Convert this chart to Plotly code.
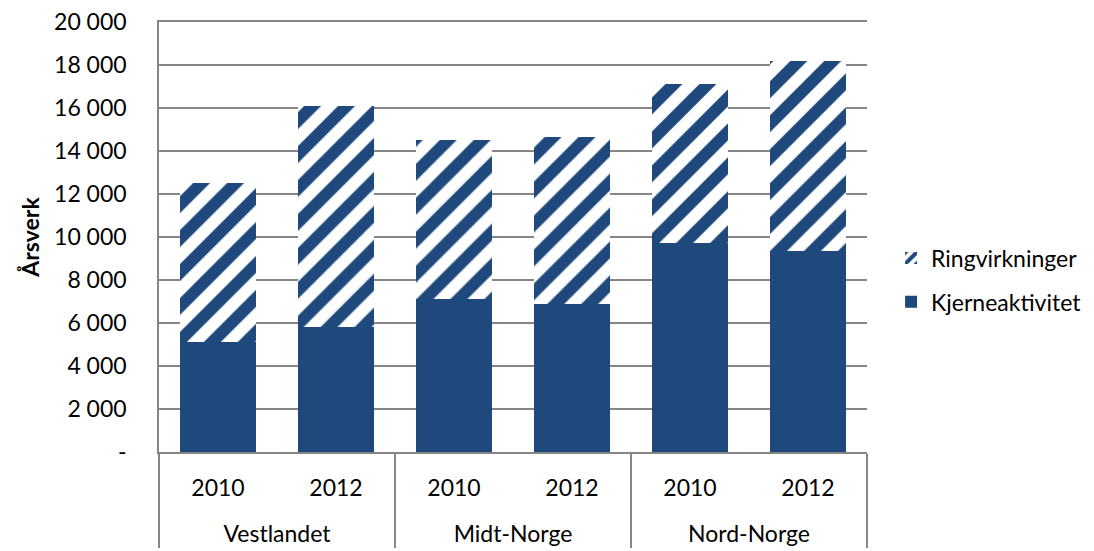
import plotly.graph_objects as go

regions = ["Vestlandet", "Vestlandet", "Midt-Norge", "Midt-Norge", "Nord-Norge", "Nord-Norge"]
years = ["2010", "2012", "2010", "2012", "2010", "2012"]
kjerneaktivitet = [5100, 5800, 7100, 6900, 9700, 9350]
ringvirkninger = [7400, 10300, 7400, 7750, 7400, 8850]
y_tickvals = [0, 2000, 4000, 6000, 8000, 10000, 12000, 14000, 16000, 18000, 20000]
y_ticktext = ["-", "2 000", "4 000", "6 000", "8 000", "10 000", "12 000", "14 000", "16 000", "18 000", "20 000"]

BLUE = "#1F497D"
GRID = "#868686"
FONT = "Lato"
FS = 23

# year labels get an extra (invisible) line so the region row sits lower, as in the reference
year_labels = [y + "<br><span style='font-size:28px'>\u00a0</span>" for y in years]
x_cats = [regions, year_labels]

fig = go.Figure()
fig.add_trace(go.Bar(
    x=x_cats, y=kjerneaktivitet, name="Kjerneaktivitet",
    legendgroup="k", legendrank=2,
    marker=dict(color=BLUE, line=dict(width=0)),
))
fig.add_trace(go.Bar(
    x=x_cats, y=ringvirkninger, name="Ringvirkninger",
    legendgroup="r", legendrank=1,
    marker=dict(color="white", line=dict(width=0),
                pattern=dict(shape="/", fgcolor=BLUE, bgcolor="white", fgopacity=1,
                             size=24, solidity=0.5)),
))

# the page body has an 8px default margin, so the figure is 8px smaller than the window
fig.update_layout(
    barmode="stack",
    bargap=0.35,
    width=1086, height=543,
    margin=dict(l=151, r=227, t=14, b=99, autoexpand=False),
    paper_bgcolor="white", plot_bgcolor="white",
    font=dict(family=FONT, size=FS, color="#000000"),
    showlegend=True,
    legend=dict(x=1.034, y=0.40, xanchor="left", yanchor="middle",
                font=dict(family=FONT, size=FS), traceorder="grouped",
                tracegroupgap=11, itemwidth=30, bgcolor="rgba(0,0,0,0)"),
    yaxis=dict(range=[0, 20000], tickvals=y_tickvals, ticktext=y_ticktext,
               automargin=False, ticklabeloverflow="allow",
               showgrid=True, gridcolor=GRID, gridwidth=1.5,
               showline=True, linecolor=GRID, linewidth=1.5,
               ticks="", ticklabelstandoff=26,
               zeroline=False, tickfont=dict(family=FONT, size=FS),
               title=dict(text="<b>Årsverk</b>", font=dict(family=FONT, size=FS), standoff=8)),
    xaxis=dict(type="multicategory", automargin=False,
               showline=True, mirror=True, linecolor=GRID, linewidth=1.5,
               ticks="", showdividers=True, dividercolor=GRID, dividerwidth=1.5,
               ticklabelstandoff=15,
               tickfont=dict(family=FONT, size=FS)),
)

fig.write_html("out.html")
